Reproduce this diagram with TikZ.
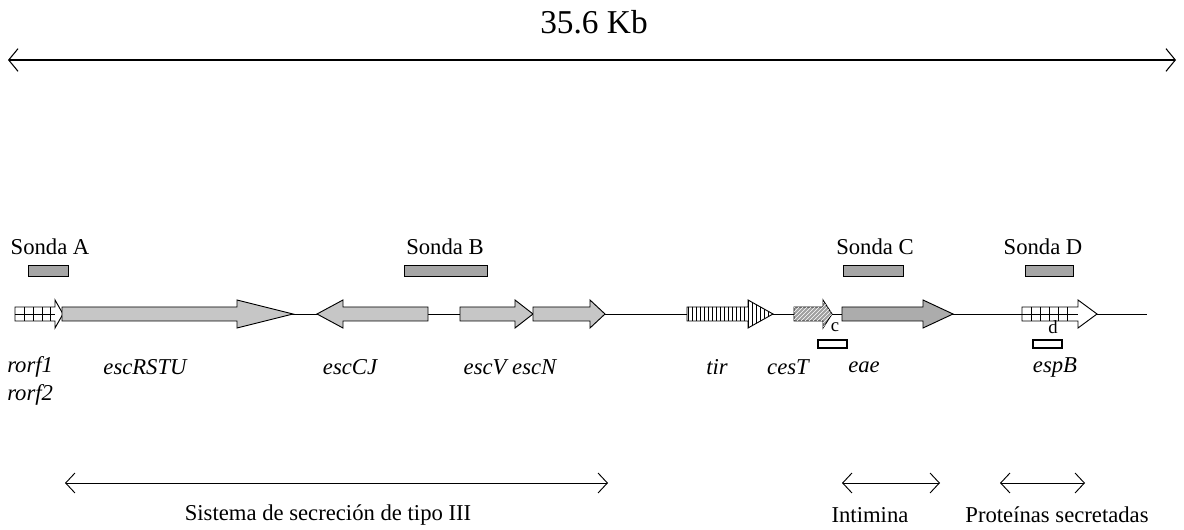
\documentclass[tikz,border=0pt]{standalone}
\usepackage{fontspec}
\setmainfont{Liberation Serif}
\usetikzlibrary{arrows.meta,patterns}
\newcommand\GeneR[5]{\path[#1] (#2,307) -- (#3,307) -- (#3,300) -- (#4,314) -- (#3,328) -- (#3,321) -- (#2,321) -- cycle;}
\newcommand\GeneL[5]{\path[#1] (#2,307) -- (#3,307) -- (#3,300) -- (#4,314) -- (#3,328) -- (#3,321) -- (#2,321) -- cycle;}
\begin{document}
\begin{tikzpicture}[x=0.75pt,y=-0.75pt,
  bigspan/.style={line width=0.8pt,{Straight Barb[length=7pt,width=17pt]}-{Straight Barb[length=7pt,width=17pt]}},
  span/.style={line width=0.7pt,{Straight Barb[length=7pt,width=15pt]}-{Straight Barb[length=7pt,width=15pt]}},
  lbl/.style={font=\fontsize{17}{20}\selectfont, inner sep=0pt},
  glbl/.style={font=\fontsize{17}{20}\selectfont\itshape, inner sep=0pt},
  small/.style={font=\fontsize{14}{16}\selectfont, inner sep=0pt},
  probe/.style={draw=black, fill=gray!70, line width=0.6pt},
  genebox/.style={draw=black, line width=0.7pt},
  grayg/.style={genebox, fill=gray!45},
  darkg/.style={genebox, fill=gray!65},
  whiteg/.style={genebox, fill=white},
  fragbox/.style={draw=black, fill=white, line width=1.3pt}
]
\useasboundingbox (0,0) rectangle (1184,530);

% scale
\coordinate (kbL) at (8,60);
\coordinate (kbR) at (1176,60);
\draw[bigspan] (kbL) -- (kbR);
\node[font=\fontsize{25}{28}\selectfont, inner sep=0pt] (kb) at (594,22) {35.6 Kb};

% probe labels
\node[lbl] (sA) at (50,247) {Sonda A};
\node[lbl] (sB) at (445,247) {Sonda B};
\node[lbl] (sC) at (875,247) {Sonda C};
\node[lbl] (sD) at (1043,247) {Sonda D};

% probes
\draw[probe] (28,265) rectangle (68,276);
\draw[probe] (404,265) rectangle (487,276);
\draw[probe] (843,265) rectangle (903,276);
\draw[probe] (1025,265) rectangle (1073,276);

% backbone
\coordinate (bbL) at (290,314);
\coordinate (bbR) at (1147,314);
\draw[line width=0.7pt] (bbL) -- (bbR);

% genes
\GeneR{whiteg}{15}{55}{63}{rorf1}
\foreach \x in {24,33,42,50} \draw[line width=0.6pt] (\x,307) -- (\x,321);
\draw[line width=0.5pt] (15,314) -- (55,314);
\GeneR{grayg}{62}{237}{293}{escRSTU}
\GeneL{grayg}{428}{343}{317}{escCJ}
\GeneR{grayg}{460}{515}{533}{escV}
\GeneR{grayg}{533}{590}{605}{escN}
\GeneR{genebox, fill=white}{687}{748}{773}{tir}
\GeneR{pattern=vertical lines}{687}{748}{773}{tir}
\GeneR{genebox, fill=gray!75}{794}{823}{832}{cesT}
\GeneR{pattern=north east lines, pattern color=white}{794}{823}{832}{cesT}
\GeneR{darkg}{842}{923}{953}{eae}
\GeneR{whiteg}{1022}{1078}{1097}{espB}
\foreach \x in {1031,1040,1049,1058,1067} \draw[line width=0.6pt] (\x,307) -- (\x,321);
\draw[line width=0.5pt] (1022,314) -- (1078,314);

% fragments c, d
\node[small] (lc) at (835,327) {c};
\draw[fragbox] (818,340) rectangle (847,348);
\node[small] (ld) at (1053,327) {d};
\draw[fragbox] (1033,340) rectangle (1062,348);

% gene labels
\node[glbl, anchor=west] (g1) at (7,367) {rorf1};
\node[glbl, anchor=west] (g2) at (7,395) {rorf2};
\node[glbl] (g3) at (145,367) {escRSTU};
\node[glbl] (g4) at (350,367) {escCJ};
\node[glbl] (g5) at (510,367) {escV escN};
\node[glbl] (g6) at (717,367) {tir};
\node[glbl] (g7) at (788,367) {cesT};
\node[glbl] (g8) at (864,367) {eae};
\node[glbl] (g9) at (1055,367) {espB};

% bottom spans
\coordinate (t3L) at (65,483);
\coordinate (t3R) at (608,483);
\draw[span] (t3L) -- (t3R);
\coordinate (inL) at (842,483);
\coordinate (inR) at (940,483);
\draw[span] (inL) -- (inR);
\coordinate (psL) at (1000,483);
\coordinate (psR) at (1085,483);
\draw[span] (psL) -- (psR);
\node[lbl] (t3) at (328,515) {Sistema de secreción de tipo III};
\node[lbl] (in) at (870,515) {Intimina};
\node[lbl] (ps) at (1057,515) {Proteínas secretadas};
\end{tikzpicture}
\end{document}
